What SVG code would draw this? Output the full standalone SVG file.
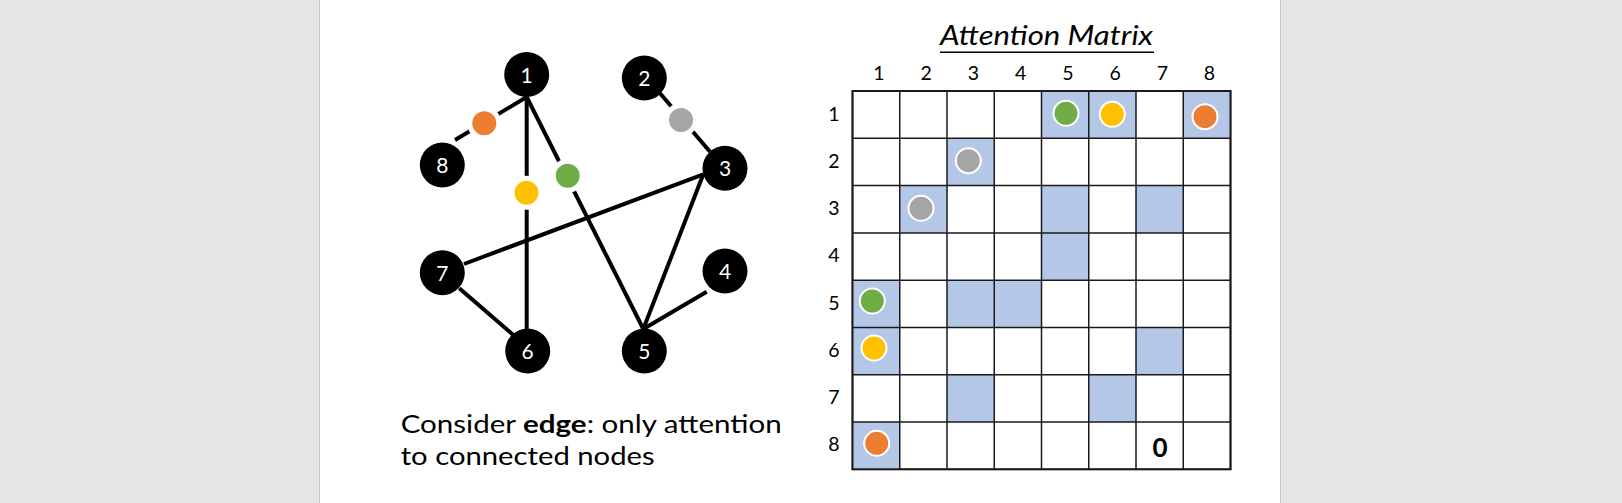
<svg xmlns="http://www.w3.org/2000/svg" width="1622" height="503" viewBox="0 0 1622 503">
<style>
.edge{stroke:#000;stroke-width:4;stroke-linecap:butt;fill:none}
.node{fill:#000}
.nl{fill:#fff;font-family:Lato,"Liberation Sans",sans-serif;font-size:21px;text-anchor:middle}
.dot{stroke:#fff;stroke-width:5}
.mdot{stroke:#fff;stroke-width:2}
.cell{fill:#fff;stroke:#1a1a1a;stroke-width:1.5}
.hl{fill:#b4c7e7}
.lab{font-family:Lato,"Liberation Sans",sans-serif;font-size:19.5px;fill:#000;text-anchor:middle}
.txt{font-family:Lato,"Liberation Sans",sans-serif;font-size:25px;fill:#000}
.green{fill:#70ad47}.yellow{fill:#ffc000}.orange{fill:#ed7d31}.gray{fill:#a5a5a5}
</style>
<rect x="0" y="0" width="1622" height="503" fill="#e6e6e6"/>
<rect x="320" y="0" width="960" height="503" fill="#fff"/>
<line x1="319.5" y1="0" x2="319.5" y2="503" stroke="#c6c6c6" stroke-width="1"/>
<line x1="1280.5" y1="0" x2="1280.5" y2="503" stroke="#c6c6c6" stroke-width="1"/>

<g id="connectors">
<line class="edge" x1="526.7" y1="97" x2="455" y2="140"/>
<line class="edge" x1="526.7" y1="97" x2="526.7" y2="329"/>
<line class="edge" x1="526.7" y1="97" x2="643.3" y2="329"/>
<line class="edge" x1="660" y1="93.3" x2="710" y2="151.7"/>
<line class="edge" x1="703.3" y1="174.3" x2="464" y2="264"/>
<line class="edge" x1="703.3" y1="174.3" x2="643.3" y2="329"/>
<line class="edge" x1="706.7" y1="291.7" x2="643.3" y2="329"/>
<line class="edge" x1="459.3" y1="288.3" x2="513.3" y2="335"/>
<circle class="dot orange" cx="484.3" cy="123.3" r="14.5"/>
<circle class="dot yellow" cx="526.5" cy="192.7" r="14.5"/>
<circle class="dot green" cx="567.7" cy="175.7" r="14.5"/>
<circle class="dot gray" cx="681" cy="120" r="14.5"/>
</g>

<g id="node1"><circle class="node" cx="526.7" cy="74.5" r="22.5"/><text class="nl" x="526.7" y="82.5">1</text></g>
<g id="node2"><circle class="node" cx="644.3" cy="78" r="22.5"/><text class="nl" x="644.3" y="86">2</text></g>
<g id="node3"><circle class="node" cx="725" cy="168.3" r="22.5"/><text class="nl" x="725" y="176.3">3</text></g>
<g id="node4"><circle class="node" cx="725" cy="271" r="22.5"/><text class="nl" x="725" y="279">4</text></g>
<g id="node5"><circle class="node" cx="644.3" cy="351" r="22.5"/><text class="nl" x="644.3" y="359">5</text></g>
<g id="node6"><circle class="node" cx="527.7" cy="351" r="22.5"/><text class="nl" x="527.7" y="359">6</text></g>
<g id="node7"><circle class="node" cx="442.3" cy="272.7" r="22.5"/><text class="nl" x="442.3" y="280.7">7</text></g>
<g id="node8"><circle class="node" cx="442.3" cy="165" r="22.5"/><text class="nl" x="442.3" y="173">8</text></g>

<g id="caption">
<text class="txt" x="400.7" y="433.3" textLength="381" lengthAdjust="spacingAndGlyphs">Consider <tspan font-weight="bold">edge</tspan>: only attention</text>
<text class="txt" x="400.7" y="464.5" textLength="254" lengthAdjust="spacingAndGlyphs">to connected nodes</text>
</g>

<g id="matrix-title">
<text x="940" y="45" font-family="Lato,'Liberation Sans',sans-serif" font-style="italic" font-size="27" textLength="213" lengthAdjust="spacingAndGlyphs">Attention Matrix</text>
<line x1="940" y1="52.3" x2="1154" y2="52.3" stroke="#000" stroke-width="1.5"/>
</g>

<g id="col-labels">
<text class="lab" x="879" y="80">1</text>
<text class="lab" x="926.2" y="80">2</text>
<text class="lab" x="973.5" y="80">3</text>
<text class="lab" x="1020.7" y="80">4</text>
<text class="lab" x="1068" y="80">5</text>
<text class="lab" x="1115.2" y="80">6</text>
<text class="lab" x="1162.5" y="80">7</text>
<text class="lab" x="1209.5" y="80">8</text>
</g>
<g id="row-labels">
<text class="lab" x="834" y="120.5">1</text>
<text class="lab" x="834" y="167.7">2</text>
<text class="lab" x="834" y="215">3</text>
<text class="lab" x="834" y="262.2">4</text>
<text class="lab" x="834" y="309.5">5</text>
<text class="lab" x="834" y="356.7">6</text>
<text class="lab" x="834" y="404">7</text>
<text class="lab" x="834" y="451.2">8</text>
</g>

<g id="matrix-cells">
<rect class="cell" x="852.5" y="91" width="378" height="378.3"/>
<rect class="hl" x="1041.5" y="91" width="47.25" height="47.3"/>
<rect class="hl" x="1088.75" y="91" width="47.25" height="47.3"/>
<rect class="hl" x="1183.25" y="91" width="47.25" height="47.3"/>
<rect class="hl" x="947" y="138.3" width="47.25" height="47.3"/>
<rect class="hl" x="899.75" y="185.6" width="47.25" height="47.3"/>
<rect class="hl" x="1041.5" y="185.6" width="47.25" height="47.3"/>
<rect class="hl" x="1136" y="185.6" width="47.25" height="47.3"/>
<rect class="hl" x="1041.5" y="232.9" width="47.25" height="47.3"/>
<rect class="hl" x="852.5" y="280.2" width="47.25" height="47.3"/>
<rect class="hl" x="947" y="280.2" width="47.25" height="47.3"/>
<rect class="hl" x="994.25" y="280.2" width="47.25" height="47.3"/>
<rect class="hl" x="852.5" y="327.5" width="47.25" height="47.3"/>
<rect class="hl" x="1136" y="327.5" width="47.25" height="47.3"/>
<rect class="hl" x="947" y="374.8" width="47.25" height="47.3"/>
<rect class="hl" x="1088.75" y="374.8" width="47.25" height="47.3"/>
<rect class="hl" x="852.5" y="422" width="47.25" height="47.3"/>
<g stroke="#1a1a1a" stroke-width="1.5">
<line x1="899.75" y1="91" x2="899.75" y2="469.3"/>
<line x1="947" y1="91" x2="947" y2="469.3"/>
<line x1="994.25" y1="91" x2="994.25" y2="469.3"/>
<line x1="1041.5" y1="91" x2="1041.5" y2="469.3"/>
<line x1="1088.75" y1="91" x2="1088.75" y2="469.3"/>
<line x1="1136" y1="91" x2="1136" y2="469.3"/>
<line x1="1183.25" y1="91" x2="1183.25" y2="469.3"/>
<line x1="852.5" y1="138.3" x2="1230.5" y2="138.3"/>
<line x1="852.5" y1="185.6" x2="1230.5" y2="185.6"/>
<line x1="852.5" y1="232.9" x2="1230.5" y2="232.9"/>
<line x1="852.5" y1="280.2" x2="1230.5" y2="280.2"/>
<line x1="852.5" y1="327.5" x2="1230.5" y2="327.5"/>
<line x1="852.5" y1="374.8" x2="1230.5" y2="374.8"/>
<line x1="852.5" y1="422" x2="1230.5" y2="422"/>
</g>
<rect x="852.5" y="91" width="378" height="378.3" fill="none" stroke="#1a1a1a" stroke-width="2"/>
</g>

<g id="matrix-dots">
<circle class="mdot green" cx="1066" cy="113.3" r="12.5"/>
<circle class="mdot yellow" cx="1112.3" cy="114.3" r="12.5"/>
<circle class="mdot orange" cx="1205" cy="116.7" r="12.5"/>
<circle class="mdot gray" cx="968.3" cy="160.7" r="12.5"/>
<circle class="mdot gray" cx="921" cy="208.3" r="12.5"/>
<circle class="mdot green" cx="872.3" cy="301" r="12.5"/>
<circle class="mdot yellow" cx="874" cy="348" r="12.5"/>
<circle class="mdot orange" cx="876.7" cy="443.3" r="12.5"/>
<text x="1160" y="456.7" font-family="Lato,'Liberation Sans',sans-serif" font-weight="bold" font-size="26" text-anchor="middle">0</text>
</g>
</svg>
